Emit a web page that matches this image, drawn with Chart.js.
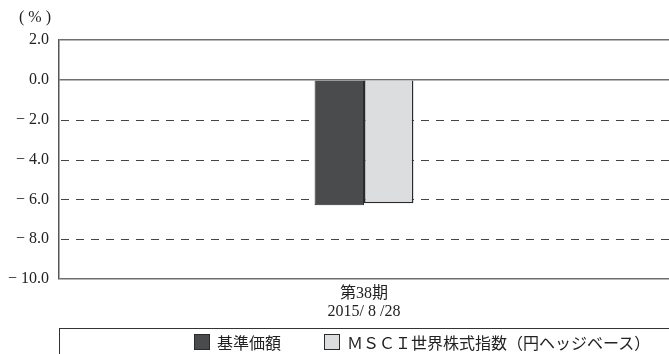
<!DOCTYPE html>
<html>
<head>
<meta charset="utf-8">
<script src="https://cdn.jsdelivr.net/npm/chart.js@4/dist/chart.umd.min.js"></script>
<style>
  body { margin: 0; background: #fff; }
  #wrap { position: relative; width: 669px; height: 354px; overflow: hidden; }
  #legend {
    position: absolute; left: 59px; top: 328px; width: 640px; height: 40px;
    border-top: 1.5px solid #333; border-left: 1.5px solid #333;
    font-family: 'Noto Sans CJK JP', sans-serif; font-size: 16px; color: #222;
  }
  .item { position: absolute; top: 3px; display: flex; align-items: center; white-space: nowrap; line-height: 20px; }
  .box { width: 14px; height: 14px; border: 1px solid #2b2b2b; margin-right: 7px; }
</style>
</head>
<body>
<div id="wrap">
  <canvas id="chart" width="669" height="354"></canvas>
  <div id="legend"></div>
</div>
<script>
// data
const categories = [['第38期', '2015/ 8 /28']];
const seriesNames = ['基準価額', 'ＭＳＣＩ世界株式指数（円ヘッジベース）'];
const fundValues = [-6.3];
const indexValues = [-6.2];
const yTicks = [2, 0, -2, -4, -6, -8, -10];
const solidLines = [2, 0, -10];

const colors = ['#4a4b4d', '#dcdddf'];
const serif = "'Liberation Serif', 'Noto Sans CJK JP', serif";

// dashed horizontal lines + unit label
const extras = {
    id: 'extras',
    beforeDatasetsDraw(chart) {
        const { ctx, chartArea, scales } = chart;
        ctx.save();
        ctx.strokeStyle = '#444';
        ctx.lineWidth = 1.2;
        ctx.setLineDash([8, 7]);
        yTicks.filter(v => !solidLines.includes(v)).forEach(v => {
            const y = Math.round(scales.y.getPixelForValue(v)) + 0.5;
            ctx.beginPath();
            ctx.moveTo(chartArea.left + 2, y);
            ctx.lineTo(chartArea.right, y);
            ctx.stroke();
        });
        ctx.restore();
    },
    afterDraw(chart) {
        const ctx = chart.ctx;
        ctx.save();
        ctx.font = '16px ' + serif;
        ctx.fillStyle = '#222';
        ctx.textAlign = 'right';
        ctx.textBaseline = 'middle';
        ctx.fillText('( % )', 51, 18);
        ctx.restore();
    }
};

const chart = new Chart(document.getElementById('chart'), {
    type: 'bar',
    data: {
        labels: categories,
        datasets: [
            {
                label: seriesNames[0],
                data: fundValues,
                backgroundColor: colors[0],
                borderColor: '#2b2b2b',
                borderWidth: 1,
            },
            {
                label: seriesNames[1],
                data: indexValues,
                backgroundColor: colors[1],
                borderColor: '#2b2b2b',
                borderWidth: 1.5,
            },
        ],
    },
    options: {
        responsive: false,
        animation: false,
        layout: { padding: { top: 40, right: 0, bottom: 25, left: 0 } },
        plugins: {
            legend: { display: false },
            tooltip: { enabled: false },
        },
        datasets: {
            bar: { categoryPercentage: 0.162, barPercentage: 1 },
        },
        scales: {
            x: {
                grid: { display: false, drawTicks: false, tickLength: 0 },
                border: { display: false },
                ticks: {
                    color: '#222',
                    font: { family: serif, size: 16, lineHeight: 1.1 },
                    padding: 6,
                    maxRotation: 0,
                },
                afterFit(scale) { scale.height = 50; },
            },
            y: {
                min: -10,
                max: 2,
                afterBuildTicks(scale) {
                    scale.ticks = yTicks.map(v => ({ value: v }));
                },
                grid: {
                    drawTicks: false,
                    lineWidth: 1.5,
                    color: ctx => solidLines.includes(ctx.tick && ctx.tick.value) ? '#6e6e6e' : 'rgba(0,0,0,0)',
                },
                border: { display: true, color: '#555', width: 1.5 },
                ticks: {
                    color: '#222',
                    padding: 10,
                    font: { family: serif, size: 16 },
                    callback: v => (v < 0 ? '\u2212 ' : '') + Math.abs(v).toFixed(1),
                },
                afterFit(scale) { scale.width = 59; },
            },
        },
    },
    plugins: [extras],
});

// legend
const legend = document.getElementById('legend');
const itemLeft = [134, 264];
seriesNames.forEach((name, i) => {
    const item = document.createElement('div');
    item.className = 'item';
    item.style.left = itemLeft[i] + 'px';
    const box = document.createElement('span');
    box.className = 'box';
    box.style.background = colors[i];
    const text = document.createElement('span');
    text.textContent = name;
    item.appendChild(box);
    item.appendChild(text);
    legend.appendChild(item);
});
</script>
</body>
</html>
